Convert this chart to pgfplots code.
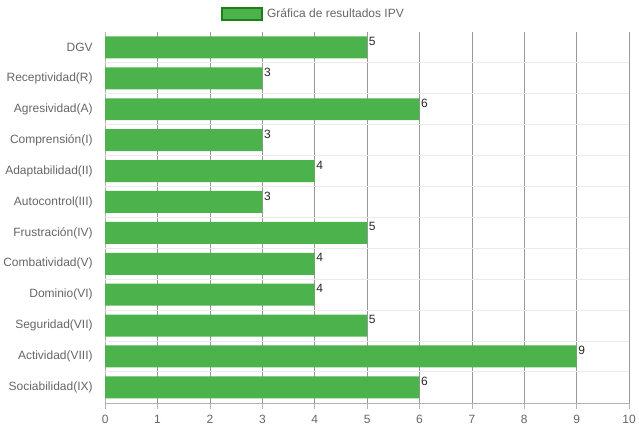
\documentclass[border=0pt]{standalone}
\usepackage{fontspec}
\setmainfont{Liberation Sans}
\usepackage{pgfplots}
\pgfplotsset{compat=1.18}
\definecolor{barfill}{HTML}{4CB24C}
\definecolor{barborder}{HTML}{1C7F1C}
\definecolor{ticktext}{HTML}{666666}
\begin{document}
\begin{tikzpicture}
\begin{axis}[
  xbar, bar width=22pt, bar shift=0pt,
  scale only axis, width=524pt, height=371pt,
  xmin=0, xmax=10, ymin=-0.5, ymax=11.5,
  xtick={0,...,10},
  ytick={0,...,11},
  yticklabels={Sociabilidad(IX),Actividad(VIII),Seguridad(VII),Dominio(VI),Combatividad(V),Frustración(IV),Autocontrol(III),Adaptabilidad(II),Comprensión(I),Agresividad(A),Receptividad(R),DGV},
  extra y ticks={0.5,1.5,...,10.5},
  extra y tick labels={},
  extra y tick style={grid=major, major grid style={draw=black!8, line width=1pt},
    tick style={draw=black!8, line width=1pt}, major tick length=11pt},
  xmajorgrids,
  major grid style={draw=black!40, line width=0.7pt},
  axis lines*=left,
  axis line style={draw=black!30, line width=0.7pt, -},
  major tick length=6pt,
  tick align=outside,
  ytick style={draw=none},
  xtick style={draw=black!30, line width=0.7pt},
  tick label style={font=\fontsize{12}{14}\selectfont, text=ticktext},
  /pgf/number format/assume math mode=true,
  xticklabel style={yshift=-3pt},
  yticklabel style={xshift=-3pt},
  nodes near coords,
  nodes near coords style={font=\fontsize{12}{14}\selectfont, text=black!85, anchor=west, inner sep=1.5pt, yshift=6pt},
  legend style={at={(0.40,1)}, anchor=center, yshift=18pt, draw=none, fill=none,
    font=\fontsize{12}{14}\selectfont, text=ticktext, inner sep=0pt,
    nodes={inner xsep=4.5pt, inner ysep=0pt}},
  legend image code/.code={\draw[fill=barfill, draw=barborder, line width=1.5pt] (0pt,-6pt) rectangle (40pt,6pt);},
]
\addplot[fill=barfill, draw=none] coordinates {
  (6,0) (9,1) (5,2) (4,3) (4,4) (5,5) (3,6) (4,7) (3,8) (6,9) (3,10) (5,11)
};
\addlegendentry{Gráfica de resultados IPV}
\end{axis}
\path ([yshift=32pt]current axis.north) ([yshift=-28pt]current axis.south)
  ([xshift=10pt]current axis.east) ([xshift=-102pt]current axis.west);
\end{tikzpicture}
\end{document}
